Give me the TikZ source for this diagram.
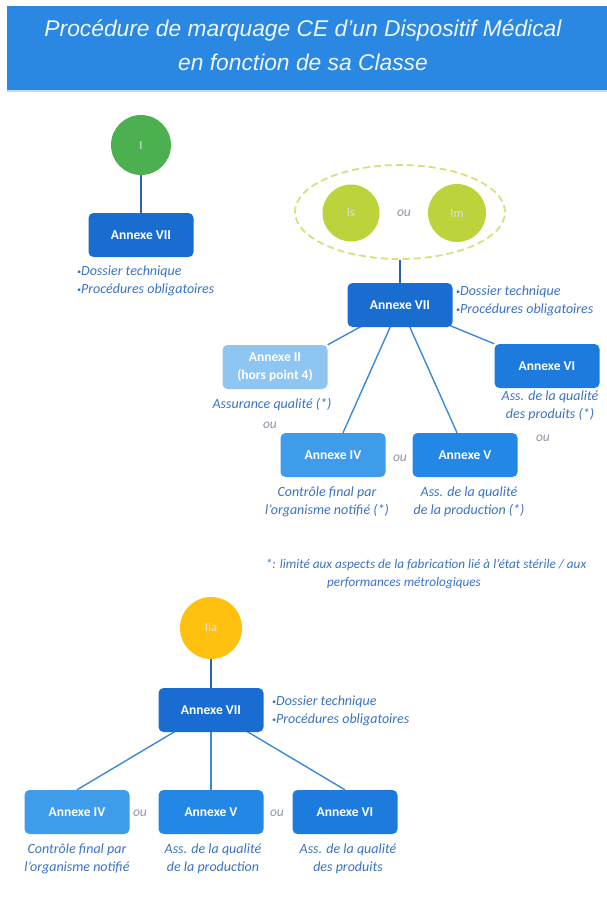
\documentclass[tikz,border=0pt]{standalone}
\usepackage{fontspec}
\setmainfont{Carlito}
\newfontfamily\headfont{Liberation Sans}
\usetikzlibrary{shapes.geometric,calc}

\definecolor{headblue}{HTML}{2A88E3}
\definecolor{headline}{HTML}{BCDDF8}
\definecolor{titletext}{HTML}{EEF6FF}
\definecolor{classI}{HTML}{4CAF50}
\definecolor{classIs}{HTML}{BDD33B}
\definecolor{dashring}{HTML}{D3E27A}
\definecolor{classIIa}{HTML}{FFC10F}
\definecolor{anxdark}{HTML}{1A6DD0}
\definecolor{anxmid}{HTML}{2388E5}
\definecolor{anxlight}{HTML}{3E9CEB}
\definecolor{anxpale}{HTML}{8EC5F1}
\definecolor{anxvi}{HTML}{1D7BDD}
\definecolor{labelblue}{HTML}{3A72C4}
\definecolor{orgray}{HTML}{8C97A8}
\definecolor{linkdark}{HTML}{2D62AE}
\definecolor{linkblue}{HTML}{3C88DA}

\pgfdeclarelayer{back}
\pgfsetlayers{back,main}

\tikzset{
  annexe/.style={rectangle, rounded corners=5pt, minimum width=105pt,
    minimum height=44pt, inner sep=2pt, text=white, align=center,
    font=\bfseries\fontsize{13.5}{18}\selectfont},
  classnode/.style={circle, minimum size=60pt, inner sep=0pt,
    text=white!88!black, font=\fontsize{12.5}{14}\selectfont},
  note/.style={text=labelblue, inner sep=0pt, align=center,
    font=\itshape\fontsize{14}{18}\selectfont},
  orword/.style={text=orgray, inner sep=0pt,
    font=\itshape\fontsize{13.5}{15}\selectfont},
  footnote/.style={text=labelblue, inner sep=0pt,
    font=\itshape\fontsize{13.2}{14}\selectfont},
  titleline/.style={text=titletext, inner sep=0pt,
    font=\headfont\itshape\fontsize{22.8}{24}\selectfont},
  link/.style={draw=linkdark, line width=1.4pt},
  branch/.style={draw=linkblue, line width=1.4pt},
}

\newcommand{\bul}{{\fontsize{8}{8}\selectfont\raisebox{1.5pt}{•}}}

\begin{document}
\begin{tikzpicture}[x=1pt, y=-1pt]
\useasboundingbox (0,0) rectangle (607,903);

% title band
\fill[headblue] (7,6) rectangle (607,90);
\draw[headline, line width=1.5pt] (7,91) -- (607,91);
\node[titleline] (title1) at (303,30) {Procédure de marquage CE d’un Dispositif Médical};
\node[titleline] (title2) at (303,62) {en fonction de sa Classe};

% class I
\node[classnode, fill=classI] (cI) at (141,145) {I};
\node[annexe, fill=anxdark] (aI7) at (141,235) {Annexe VII};
\node[note, anchor=west, align=left] (nI7) at (77,281)
  {\bul Dossier technique\\\bul Procédures obligatoires};
\draw[link] (cI) -- (aI7);

% classes Is / Im
\node[ellipse, draw=dashring, dash pattern=on 7pt off 4pt, line width=1.8pt,
  minimum width=210pt, minimum height=94pt] (grp) at (400,212) {};
\node[classnode, fill=classIs, minimum size=57pt] (cIs) at (351,213) {Is};
\node[classnode, fill=classIs, minimum size=58pt] (cIm) at (457,213) {Im};
\node[orword] (ouS) at (404,213) {ou};
\node[annexe, fill=anxdark] (aS7) at (400,305) {Annexe VII};
\node[note, anchor=west, align=left] (nS7) at (456,301)
  {\bul Dossier technique\\\bul Procédures obligatoires};
\draw[link] (grp.south) -- (aS7.north);

\node[annexe, fill=anxpale] (aS2) at (275,367) {Annexe II\\(hors point 4)};
\node[annexe, fill=anxvi] (aS6) at (547,366) {Annexe VI};
\node[annexe, fill=anxlight] (aS4) at (333,455) {Annexe IV};
\node[annexe, fill=anxmid] (aS5) at (465,455) {Annexe V};

\begin{pgfonlayer}{back}
  \draw[branch] (aS7.center) -- (aS2.north east);
  \draw[branch] (aS7.center) -- ($(aS4.north)+(10,0)$);
  \draw[branch] (aS7.center) -- ($(aS5.north)+(-8,0)$);
  \draw[branch] (aS7.center) -- (aS6.north west);
\end{pgfonlayer}

\node[note] (nS2) at (272,405) {Assurance qualité (*)};
\node[orword] (ouS2) at (270,425) {ou};
\node[note] (nS6) at (550,406) {Ass. de la qualité\\des produits (*)};
\node[orword] (ouS6) at (543,438) {ou};
\node[orword] (ouS45) at (400,458) {ou};
\node[note] (nS4) at (327,502) {Contrôle final par\\l’organisme notifié (*)};
\node[note] (nS5) at (469,502) {Ass. de la qualité\\de la production (*)};

\node[footnote] (fn1) at (426,565) {*: limité aux aspects de la fabrication lié à l’état stérile / aux};
\node[footnote] (fn2) at (404,583) {performances métrologiques};

% class IIa
\node[classnode, fill=classIIa, minimum size=62pt] (cIIa) at (211,628) {IIa};
\node[annexe, fill=anxdark] (aB7) at (211,710) {Annexe VII};
\node[note, anchor=west, align=left] (nB7) at (272,711)
  {\bul Dossier technique\\\bul Procédures obligatoires};
\draw[link] (cIIa) -- (aB7);

\node[annexe, fill=anxlight] (aB4) at (77,812) {Annexe IV};
\node[annexe, fill=anxmid] (aB5) at (211,812) {Annexe V};
\node[annexe, fill=anxvi] (aB6) at (345,812) {Annexe VI};

\begin{pgfonlayer}{back}
  \draw[branch] (aB7.center) -- (aB4.north);
  \draw[branch] (aB7.center) -- (aB5.north);
  \draw[branch] (aB7.center) -- (aB6.north);
\end{pgfonlayer}

\node[orword] (ouB45) at (140,813) {ou};
\node[orword] (ouB56) at (277,813) {ou};
\node[note] (nB4) at (77,859) {Contrôle final par\\l’organisme notifié};
\node[note] (nB5) at (213,859) {Ass. de la qualité\\de la production};
\node[note] (nB6) at (348,859) {Ass. de la qualité\\des produits};
\end{tikzpicture}
\end{document}
